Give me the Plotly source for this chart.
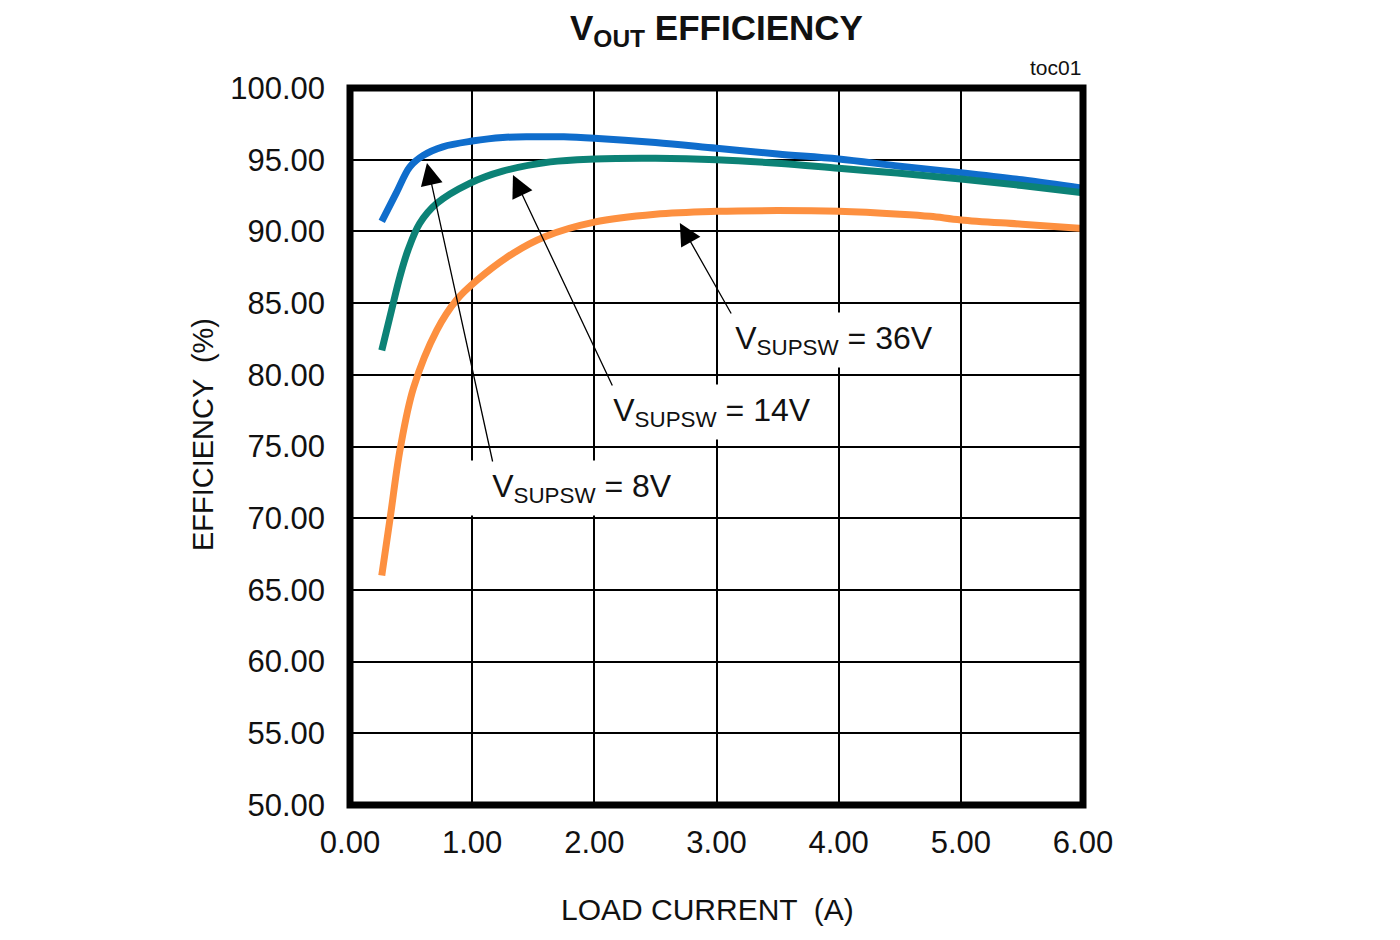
import plotly.graph_objects as go

# ---- data ----
x_8v = [0.26, 0.38, 0.49, 0.60, 0.76, 1.0, 1.25, 1.5, 1.75, 2.0, 2.5, 3.0, 3.5, 4.0, 4.5, 5.0, 5.5, 6.0]
y_8v = [90.7, 92.7, 94.5, 95.3, 95.9, 96.3, 96.55, 96.6, 96.6, 96.5, 96.2, 95.8, 95.4, 95.05, 94.55, 94.1, 93.6, 93.0]

x_14v = [0.26, 0.34, 0.41, 0.475, 0.57, 0.71, 0.98, 1.25, 1.64, 2.0, 2.5, 3.0, 3.5, 4.0, 4.5, 5.0, 5.5, 6.0]
y_14v = [81.7, 84.5, 86.9, 88.7, 90.55, 91.95, 93.35, 94.2, 94.85, 95.05, 95.1, 95.0, 94.75, 94.4, 94.05, 93.65, 93.2, 92.7]

x_36v = [0.26, 0.33, 0.41, 0.52, 0.71, 0.87, 1.04, 1.34, 1.6, 2.0, 2.5, 3.0, 3.5, 4.0, 4.5, 4.75, 5.0, 5.5, 6.0]
y_36v = [66.0, 70.1, 74.8, 79.1, 83.1, 85.2, 86.6, 88.5, 89.65, 90.65, 91.2, 91.4, 91.45, 91.4, 91.2, 91.05, 90.8, 90.5, 90.2]

x_ticks = [0, 1, 2, 3, 4, 5, 6]
y_ticks = [50, 55, 60, 65, 70, 75, 80, 85, 90, 95, 100]

labels = ["V<sub>SUPSW</sub> = 8V", "V<sub>SUPSW</sub> = 14V", "V<sub>SUPSW</sub> = 36V"]
label_pos = [(1.90, 72.1), (2.963, 77.4), (3.962, 82.43)]
arrow_tips = [(0.630, 94.77), (1.334, 93.93), (2.70, 90.59)]
arrow_tails = [(1.170, 73.85), (2.153, 79.15), (3.127, 84.17)]

FONT = "Liberation Sans, Arial, sans-serif"
TXT = "#111111"

fig = go.Figure()
series = [(x_8v, y_8v, "#0f6dcc", "8V"), (x_14v, y_14v, "#0c8276", "14V"), (x_36v, y_36v, "#fd9040", "36V")]
for xs, ys, col, nm in series:
    fig.add_trace(go.Scatter(x=xs, y=ys, mode="lines", name=nm,
                             line=dict(color=col, width=7, shape="spline", smoothing=1.0),
                             showlegend=False, hoverinfo="skip"))

annotations = []
widths = [234, 220, 220]
for (lx, ly), txt, w in zip(label_pos, labels, widths):
    annotations.append(dict(x=lx, y=ly, xref="x", yref="y", text=txt, showarrow=False,
                            font=dict(family=FONT, size=32, color=TXT),
                            bgcolor="white", width=w, height=54, borderpad=0))
for (tx, ty), (ax, ay) in zip(arrow_tips, arrow_tails):
    annotations.append(dict(x=tx, y=ty, xref="x", yref="y", ax=ax, ay=ay, axref="x", ayref="y",
                            text="", showarrow=True, arrowhead=2, arrowsize=3.4, arrowwidth=1.3,
                            arrowcolor="black", standoff=0))
# title and labels
annotations.append(dict(x=0.5, y=1.081, xref="paper", yref="paper", text="<b>V<sub>OUT</sub> EFFICIENCY</b>",
                        showarrow=False, font=dict(family=FONT, size=35, color=TXT), yanchor="middle"))
annotations.append(dict(x=1.0, y=1.028, xref="paper", yref="paper", text="toc01", xanchor="right",
                        showarrow=False, font=dict(family=FONT, size=21, color=TXT), yanchor="middle"))
annotations.append(dict(x=0.488, y=-0.146, xref="paper", yref="paper", text="LOAD CURRENT  (A)",
                        showarrow=False, font=dict(family=FONT, size=30, color=TXT), yanchor="middle"))
annotations.append(dict(x=-0.2005, y=0.516, xref="paper", yref="paper", text="EFFICIENCY  (%)", textangle=-90,
                        showarrow=False, font=dict(family=FONT, size=29, color=TXT), xanchor="center", yanchor="middle"))

fig.update_layout(
    width=1400, height=940,
    margin=dict(l=342, r=325, t=80, b=143),
    paper_bgcolor="white", plot_bgcolor="white",
    annotations=annotations,
    shapes=[dict(type="rect", xref="paper", yref="paper", x0=0, y0=0, x1=1, y1=1,
                 line=dict(color="black", width=7), layer="above")],
    font=dict(family=FONT, color=TXT),
)
fig.update_xaxes(range=[0, 6], tickvals=x_ticks, tickformat=".2f", showgrid=True, gridcolor="black", gridwidth=2,
                 zeroline=False, showline=False, ticks="", ticklabelstandoff=16,
                 tickfont=dict(family=FONT, size=31, color=TXT), fixedrange=True)
fig.update_yaxes(range=[50, 100], tickvals=y_ticks, tickformat=".2f", showgrid=True, gridcolor="black", gridwidth=2,
                 zeroline=False, showline=False, ticks="", ticklabelstandoff=24,
                 tickfont=dict(family=FONT, size=31, color=TXT), fixedrange=True)

fig.write_html("out.html")
